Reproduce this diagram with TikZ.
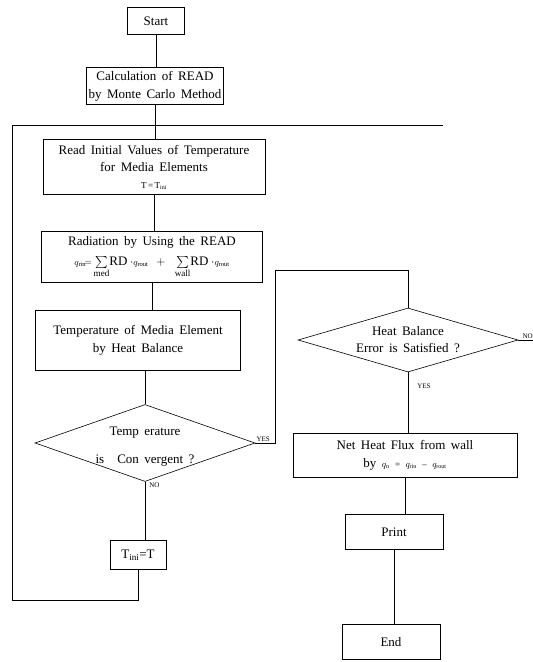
\documentclass[tikz,border=0pt]{standalone}
\usepackage{amsmath}
\usepackage{fontspec}
\setmainfont{Liberation Serif}
\usepackage{tikz}
\usetikzlibrary{positioning,shapes.geometric,shapes.misc,arrows}
\newcommand{\wordgap}{\spaceskip=0.42em\relax}

\begin{document}
\begin{tikzpicture}[x=1pt,y=-1pt,line width=0.6pt,
                    box/.style={rectangle,draw=black,align=center,inner sep=2pt,font=\fontsize{13}{18}\selectfont\wordgap},
                    decision/.style={diamond,draw=black,align=center,inner sep=0pt,font=\fontsize{13}{17}\selectfont\wordgap},
                    answer/.style={font=\fontsize{7}{8}\selectfont,inner sep=1pt}
                ]
                \useasboundingbox (0,0) rectangle (533,662);
                % left column
                \node[box,minimum width=57,minimum height=27] (start) at (156,21) {Start};
                \node[box,minimum width=137,minimum height=37] (calc) at (155,86) {Calculation of READ\\by Monte Carlo Method};
                \node[box,minimum width=222,minimum height=55,font=\fontsize{13}{17}\selectfont\wordgap] (readT) at (154,167)
                    {Read Initial Values of Temperature\\for Media Elements\\{\small T$\,$=$\,$T\textsubscript{ini}}};
                \node[box,minimum width=221,minimum height=51,font=\fontsize{13}{16}\selectfont\wordgap] (rad) at (152,257)
                    {Radiation by Using the READ\\[4pt]
                     $\scriptstyle q_{\mathrm{rin}}\!=\!\textstyle\sum\limits_{\mathrm{med}}\!\text{RD}\cdot\scriptstyle q_{\mathrm{rout}}
                      \;\;\textstyle+\;\;\sum\limits_{\mathrm{wall}}\!\text{RD}\cdot\scriptstyle q_{\mathrm{rout}}$};
                \node[box,minimum width=205,minimum height=60] (temp) at (138,340) {Temperature of Media Element\\by Heat Balance};
                \node[decision,shape aspect=2.86,minimum width=220,minimum height=77] (conv) at (145,443)
                    {\raisebox{-6pt}[0pt][0pt]{\begin{tabular}{@{}c@{}}Temp erature\\[11pt]is\quad Con vergent ?\end{tabular}}};
                \node[box,minimum width=56,minimum height=29] (tini) at (138,555) {T\textsubscript{ini}=T};
                % right column
                \node[decision,shape aspect=3.44,minimum width=220,minimum height=64] (heat) at (408,340)
                    {Heat Balance\\Error is Satisfied ?};
                \node[box,minimum width=224,minimum height=44] (net) at (405,455)
                    {Net Heat Flux from wall\\by {\small$q_{\mathrm{n}}$ = $q_{\mathrm{rin}}$ -- $q_{\mathrm{rout}}$}};
                \node[box,minimum width=98,minimum height=35] (print) at (394,532) {Print};
                \node[box,minimum width=98,minimum height=35] (end) at (391,642) {End};
                \coordinate (back) at (12,125);
                \coordinate (noback) at (443,125);
                \coordinate (yesup) at (275,270);
                \coordinate (noout) at (533,340);
                % connectors
                \draw (start.south) -- (start.south |- calc.north);
                \draw (calc.south) -- (calc.south |- readT.north);
                \draw (readT.south) -- (readT.south |- rad.north);
                \draw (rad.south) -- (rad.south |- temp.north);
                \draw (conv.north |- temp.south) -- (conv.north);
                \draw (conv.south) -- (conv.south |- tini.north);
                \draw (tini.south) -- (tini.south |- 0,600) -| (back) -- (noback);
                \draw (conv.east) -| (yesup) -| (heat.north);
                \draw (heat.east) -- (noout);
                \draw (heat.south) -- (heat.south |- net.north);
                \draw (net.south) -- (net.south |- print.north);
                \draw (print.south) -- (print.south |- end.north);
                % labels
                \node[answer,anchor=south west] (yes1) at (conv.east) {YES};
                \node[answer,anchor=north west] (no1) at ([xshift=3]conv.south) {NO};
                \node[answer,anchor=south west] (no2) at ([xshift=3]heat.east) {NO};
                \node[answer,anchor=north west] (yes2) at ([xshift=8,yshift=-10]heat.south) {YES};
\end{tikzpicture}
\end{document}
